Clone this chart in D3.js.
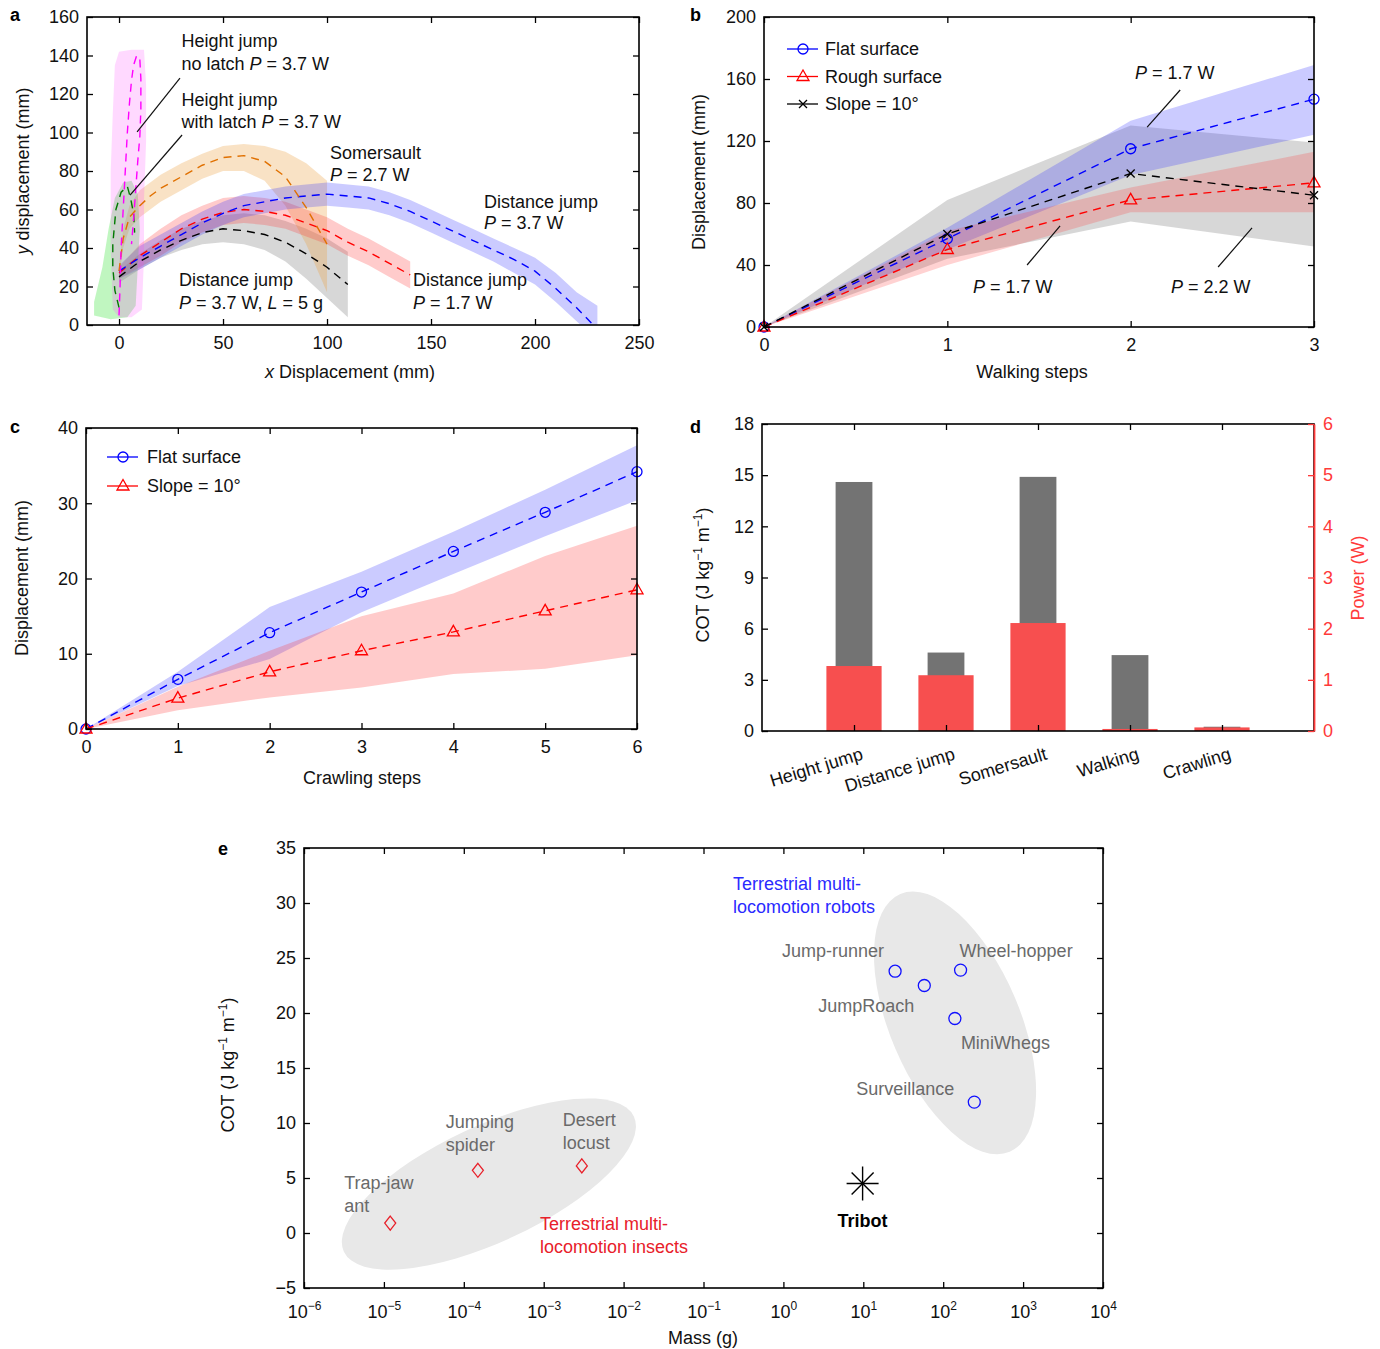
<!DOCTYPE html>
<html>
<head>
<meta charset="utf-8">
<script src="https://cdn.jsdelivr.net/npm/d3@7"></script>
<style>
body { margin: 0; background: #fff; }
svg { font-family: "Liberation Sans", Arial, Helvetica, sans-serif; }
</style>
</head>
<body>
<svg id="fig" width="1380" height="1349"></svg>
<script>
var FONT = '"Liberation Sans", Arial, Helvetica, sans-serif';
var FS = 18;

// ---------- data ----------

// a: trajectories, [x mm, y mm]
var distJump37 = [[0,28],[10,35],[20,41],[30,47],[40,53],[50,58],[60,62],[70,64],[80,66],[90,67],[100,68],[110,67],[120,66],[130,63],[140,59],[150,54],[160,49],[170,44],[180,39],[190,34],[200,28],[210,19],[220,9],[228,0]];
var distJump37Band = [[0,24,31],[10,29,41],[20,35,47],[30,41,53],[40,47,59],[50,52,64],[60,56,68],[70,58,70],[80,60,72],[90,61,73],[100,62,74],[110,61,73],[120,60,72],[130,57,69],[140,53,65],[150,48,60],[160,43,55],[170,38,50],[180,33,45],[190,27,40],[200,21,35],[210,12,27],[220,2,17],[230,-8,10]];
var distJump17 = [[0,27],[10,36],[20,43],[30,50],[40,55],[50,58.5],[60,60],[70,59],[80,57],[90,53],[100,49],[110,43],[120,38],[130,32],[140,26]];
var distJump17Band = [[0,24,30],[10,30,42],[20,36,50],[30,43,57],[40,48,62],[50,52,66],[60,53,67],[70,52,66],[80,50,64],[90,46,60],[100,42,56],[110,36,50],[120,31,45],[130,25,39],[140,19,33]];
var distJumpLoad = [[0,25],[10,33],[20,39],[30,44],[40,48],[50,50],[60,49],[70,47],[80,43],[90,37],[100,30],[110,21]];
var distJumpLoadBand = [[0,22,28],[10,29,37],[20,35,44],[30,39,50],[40,42,54],[50,43,57],[60,42,58],[70,39,57],[80,33,54],[90,24,50],[100,14,45],[110,4,38]];
var somersault = [[0,28],[2,45],[5,56],[10,62],[15,67],[20,71],[30,77],[40,83],[50,87],[60,88],[70,85],[80,77],[90,61],[100,42]];
var somersaultBand = [[0,25,31],[2,40,50],[5,50,62],[10,56,70],[20,64,78],[30,70,84],[40,76,89],[50,80,93],[60,80,94],[70,75,93],[80,62,90],[90,42,84],[100,17,75]];
var heightNoLatch = [[0,5],[0.5,20],[1,40],[2,60],[3,80],[4,100],[5,115],[6,127],[7,135],[8.5,140],[10,138],[10.5,128],[10.5,112],[10,98],[9,85],[8,70],[7,55],[6,42]];
var heightNoLatchArea = [[-3,8],[-4,40],[-4,80],[-3,110],[-2,135],[0,142],[6,143],[12,143],[13,125],[13,95],[12,65],[12,35],[11,8],[6,4],[0,4]];
var heightLatch = [[0,9],[-2,18],[-3,30],[-3,42],[-1.5,60],[1,69],[4,72],[5.5,66],[7,58],[7.5,48]];
var heightLatchArea = [[-12,5],[-12,12],[-8,30],[-5,50],[-2,66],[2,74],[6,75],[9,68],[10,50],[9,30],[8,10],[4,4],[-4,3]];

// b: walking
var walkSteps = [0,1,2,3];
var walkFlat = [0,57,115,147];
var walkFlatLo = [0,50,98,124];
var walkFlatHi = [0,64,133,169];
var walkRough = [0,50,82,93];
var walkRoughLo = [0,40,74,74];
var walkRoughHi = [0,62,90,113];
var walkSlope = [0,60,99,85];
var walkSlopeLo = [0,44,68,52];
var walkSlopeHi = [0,82,130,119];

// c: crawling
var crawlSteps = [0,1,2,3,4,5,6];
var crawlFlat = [0,6.6,12.8,18.2,23.6,28.8,34.2];
var crawlFlatLo = [0,5.7,9.3,15.5,20.6,25.6,30.4];
var crawlFlatHi = [0,7.6,16.2,20.9,26.2,31.8,37.7];
var crawlSlope = [0,4.1,7.6,10.4,12.9,15.7,18.5];
var crawlSlopeLo = [0,2.5,4.2,5.5,7.3,8,9.8];
var crawlSlopeHi = [0,5.6,10.4,15,18,23,27];

// d: cost of transport and power
var modes = ["Height jump","Distance jump","Somersault","Walking","Crawling"];
var modeCOT = [14.6,4.6,14.9,4.45,0.25];
var modePower = [1.27,1.09,2.11,0.04,0.07];

// e: COT vs mass
var insectNames = [["Trap-jaw","ant"],["Jumping","spider"],["Desert","locust"]];
var insectMass = [1.2e-5,1.5e-4,3.0e-3];
var insectCOT = [0.9,5.7,6.1];
var robotNames = ["Jump-runner","JumpRoach","Wheel-hopper","MiniWhegs","Surveillance"];
var robotMass = [25,58,165,140,245];
var robotCOT = [23.8,22.5,23.9,19.5,11.9];
var tribotMass = 9.8, tribotCOT = 4.5;

// ---------- helpers ----------

var svg = d3.select("#fig");

function frame(g, x, y, o) {
  var xr = x.range(), yr = y.range();
  var bx = g.append("g").attr("transform","translate(0,"+yr[0]+")")
    .call(d3.axisBottom(x).tickValues(o.xt).tickSizeInner(-6).tickSizeOuter(0).tickPadding(11).tickFormat(o.xf || d3.format("d")));
  g.append("g").attr("transform","translate(0,"+yr[1]+")")
    .call(d3.axisTop(x).tickValues(o.xtTop || o.xt).tickSizeInner(-6).tickSizeOuter(0).tickFormat(""));
  g.append("g").attr("transform","translate("+xr[0]+",0)")
    .call(d3.axisLeft(y).tickValues(o.yt).tickSizeInner(-6).tickSizeOuter(0).tickPadding(8));
  if (!o.noRight) {
    g.append("g").attr("transform","translate("+xr[1]+",0)")
      .call(d3.axisRight(y).tickValues(o.yt).tickSizeInner(-6).tickSizeOuter(0).tickFormat(""));
  }
  g.selectAll(".domain").remove();
  g.selectAll("g").attr("font-size",FS).attr("font-family",FONT);
  g.selectAll(".tick line").attr("stroke-width",1.3);
  g.selectAll(".tick text").attr("fill","#111");
  g.append("rect").attr("x",xr[0]).attr("y",yr[1])
    .attr("width",xr[1]-xr[0]).attr("height",yr[0]-yr[1])
    .attr("fill","none").attr("stroke","black").attr("stroke-width",1.6);
  return bx;
}

// text with *italic* pieces
function label(g, x, y, str, anchor) {
  var t = g.append("text").attr("x",x).attr("y",y).attr("font-size",FS)
    .attr("text-anchor",anchor || "start").attr("fill","#111");
  str.split("*").forEach(function(s,i){
    if (s.length) t.append("tspan").text(s).attr("font-style", i%2 ? "italic" : null);
  });
  return t;
}

function cotLabel(g, x, y) {
  var t = g.append("text").attr("font-size",FS).attr("fill","#111")
    .attr("text-anchor","middle")
    .attr("transform","translate("+x+","+y+")rotate(-90)");
  t.append("tspan").text("COT (J kg");
  t.append("tspan").text("\u22121").attr("font-size",12).attr("dy",-7);
  t.append("tspan").text(" m").attr("dy",7);
  t.append("tspan").text("\u22121").attr("font-size",12).attr("dy",-7);
  t.append("tspan").text(")").attr("dy",7);
}

function panelLetter(x, y, s) {
  svg.append("text").attr("x",x).attr("y",y).attr("font-size",FS)
    .attr("font-weight","bold").text(s);
}

var triPath = "M0,-6.5L6,4L-6,4Z";
var crossPath = "M-4,-4L4,4M-4,4L4,-4";

function marker(g, kind, cx, cy, color) {
  if (kind == "circle") {
    g.append("circle").attr("cx",cx).attr("cy",cy).attr("r",5)
      .attr("fill","none").attr("stroke",color).attr("stroke-width",1.3);
  } else {
    g.append("path").attr("d", kind == "tri" ? triPath : crossPath)
      .attr("transform","translate("+cx+","+cy+")")
      .attr("fill","none").attr("stroke",color).attr("stroke-width",1.3);
  }
}

// ---------- panel a ----------
(function(){
  var g = svg.append("g");
  var x = d3.scaleLinear().domain([-15.4,250]).range([87,639]);
  var y = d3.scaleLinear().domain([0,160]).range([325,17]);
  g.append("clipPath").attr("id","clipA").append("rect")
    .attr("x",87).attr("y",17).attr("width",552).attr("height",308);
  var plot = g.append("g").attr("clip-path","url(#clipA)");

  var band = d3.area().x(function(d){return x(d[0]);})
    .y0(function(d){return y(d[1]);}).y1(function(d){return y(d[2]);});
  var line = d3.line().x(function(d){return x(d[0]);}).y(function(d){return y(d[1]);});

  plot.append("path").attr("d",band(distJumpLoadBand)).attr("fill","#8c8c8c").attr("fill-opacity",0.35);
  plot.append("path").attr("d",band(somersaultBand)).attr("fill","#eaa040").attr("fill-opacity",0.3);
  plot.append("path").attr("d",band(distJump17Band)).attr("fill","#ff3030").attr("fill-opacity",0.25);
  plot.append("path").attr("d",band(distJump37Band)).attr("fill","#3030ff").attr("fill-opacity",0.25);
  plot.append("path").attr("d",line(heightLatchArea)+"Z").attr("fill","#30e030").attr("fill-opacity",0.3);
  plot.append("path").attr("d",line(heightNoLatchArea)+"Z").attr("fill","#ff40ff").attr("fill-opacity",0.2);

  var series = [
    [distJumpLoad,"#000"],[distJump17,"#ff0000"],[distJump37,"#0000ff"],
    [somersault,"#e07000"],[heightLatch,"#007a00"],[heightNoLatch,"#ff00ff"]
  ];
  series.forEach(function(s){
    plot.append("path").attr("d",line(s[0])).attr("fill","none")
      .attr("stroke",s[1]).attr("stroke-width",1.4).attr("stroke-dasharray","8,6");
  });

  frame(g, x, y, {xt:[0,50,100,150,200,250], yt:d3.range(0,161,20)});

  var notes = [
    [30,144.5,"Height jump"],[30,132.5,"no latch *P* = 3.7 W"],
    [30,113.8,"Height jump"],[30,102.3,"with latch *P* = 3.7 W"],
    [101.4,86.2,"Somersault"],[101.4,74.8,"*P* = 2.7 W"],
    [175.5,60.8,"Distance jump"],[175.5,49.9,"*P* = 3.7 W"],
    [28.8,20.3,"Distance jump"],[28.8,8.3,"*P* = 3.7 W, *L* = 5 g"],
    [141.3,20.3,"Distance jump"],[141.3,8.3,"*P* = 1.7 W"]
  ];
  notes.forEach(function(n){ label(g, x(n[0]), y(n[1]), n[2]); });
  var leaders = [[29.3,128.3,8.7,100.3],[30.3,98.7,5.3,67.5]];
  leaders.forEach(function(l){
    g.append("line").attr("x1",x(l[0])).attr("y1",y(l[1])).attr("x2",x(l[2])).attr("y2",y(l[3]))
      .attr("stroke","#111").attr("stroke-width",1.2);
  });

  var yl = g.append("text").attr("font-size",FS).attr("text-anchor","middle")
    .attr("transform","translate(29,171)rotate(-90)").attr("fill","#111");
  yl.append("tspan").text("y").attr("font-style","italic");
  yl.append("tspan").text(" displacement (mm)");
  label(g, 350, 378, "*x* Displacement (mm)", "middle");
  panelLetter(10, 21, "a");
})();

// ---------- panel b ----------
(function(){
  var g = svg.append("g");
  var x = d3.scaleLinear().domain([0,3]).range([764,1314]);
  var y = d3.scaleLinear().domain([0,200]).range([327,17]);
  var area = function(lo, hi){
    return d3.area().x(function(d,i){return x(walkSteps[i]);})
      .y0(function(d,i){return y(lo[i]);}).y1(function(d,i){return y(hi[i]);})(walkSteps);
  };
  g.append("path").attr("d",area(walkSlopeLo,walkSlopeHi)).attr("fill","#8c8c8c").attr("fill-opacity",0.35);
  g.append("path").attr("d",area(walkFlatLo,walkFlatHi)).attr("fill","#3030ff").attr("fill-opacity",0.25);
  g.append("path").attr("d",area(walkRoughLo,walkRoughHi)).attr("fill","#ff3030").attr("fill-opacity",0.22);

  var series = [[walkFlat,"#0000ff","circle"],[walkRough,"#ff0000","tri"],[walkSlope,"#000","cross"]];
  series.forEach(function(s){
    var line = d3.line().x(function(d,i){return x(walkSteps[i]);}).y(function(d){return y(d);});
    g.append("path").attr("d",line(s[0])).attr("fill","none").attr("stroke",s[1])
      .attr("stroke-width",1.4).attr("stroke-dasharray","8,6");
    s[0].forEach(function(v,i){ marker(g, s[2], x(walkSteps[i]), y(v), s[1]); });
  });

  frame(g, x, y, {xt:walkSteps, yt:d3.range(0,201,40)});

  var legend = [["Flat surface","#0000ff","circle"],["Rough surface","#ff0000","tri"],["Slope = 10\u00b0","#000","cross"]];
  legend.forEach(function(l,i){
    var ly = 49 + i*27.5;
    g.append("line").attr("x1",787).attr("x2",818).attr("y1",ly).attr("y2",ly)
      .attr("stroke",l[1]).attr("stroke-width",1.3);
    marker(g, l[2], 803, ly, l[1]);
    label(g, 825, ly+6, l[0]);
  });

  var notes = [[2.024,160,"*P* = 1.7 W"],[1.14,21.9,"*P* = 1.7 W"],[2.22,21.9,"*P* = 2.2 W"]];
  notes.forEach(function(n){ label(g, x(n[0]), y(n[1]), n[2]); });
  var leaders = [[2.27,152.9,2.09,129],[1.435,40,1.615,65.2],[2.477,38.7,2.662,63.9]];
  leaders.forEach(function(l){
    g.append("line").attr("x1",x(l[0])).attr("y1",y(l[1])).attr("x2",x(l[2])).attr("y2",y(l[3]))
      .attr("stroke","#111").attr("stroke-width",1.2);
  });

  g.append("text").attr("font-size",FS).attr("text-anchor","middle").attr("fill","#111")
    .attr("transform","translate(705,172)rotate(-90)").text("Displacement (mm)");
  label(g, 1032, 378, "Walking steps", "middle");
  panelLetter(690, 21, "b");
})();

// ---------- panel c ----------
(function(){
  var g = svg.append("g");
  var x = d3.scaleLinear().domain([0,6]).range([86,637]);
  var y = d3.scaleLinear().domain([0,40]).range([729,428]);
  var area = function(lo, hi){
    return d3.area().x(function(d,i){return x(crawlSteps[i]);})
      .y0(function(d,i){return y(lo[i]);}).y1(function(d,i){return y(hi[i]);})(crawlSteps);
  };
  g.append("path").attr("d",area(crawlFlatLo,crawlFlatHi)).attr("fill","#3030ff").attr("fill-opacity",0.25);
  g.append("path").attr("d",area(crawlSlopeLo,crawlSlopeHi)).attr("fill","#ff3030").attr("fill-opacity",0.25);

  var series = [[crawlFlat,"#0000ff","circle"],[crawlSlope,"#ff0000","tri"]];
  series.forEach(function(s){
    var line = d3.line().x(function(d,i){return x(crawlSteps[i]);}).y(function(d){return y(d);});
    g.append("path").attr("d",line(s[0])).attr("fill","none").attr("stroke",s[1])
      .attr("stroke-width",1.4).attr("stroke-dasharray","8,6");
    s[0].forEach(function(v,i){ marker(g, s[2], x(crawlSteps[i]), y(v), s[1]); });
  });

  frame(g, x, y, {xt:crawlSteps, yt:d3.range(0,41,10)});

  var legend = [["Flat surface","#0000ff","circle"],["Slope = 10\u00b0","#ff0000","tri"]];
  legend.forEach(function(l,i){
    var ly = 457 + i*29;
    g.append("line").attr("x1",107).attr("x2",138).attr("y1",ly).attr("y2",ly)
      .attr("stroke",l[1]).attr("stroke-width",1.3);
    marker(g, l[2], 123, ly, l[1]);
    label(g, 147, ly+6, l[0]);
  });

  g.append("text").attr("font-size",FS).attr("text-anchor","middle").attr("fill","#111")
    .attr("transform","translate(28,578)rotate(-90)").text("Displacement (mm)");
  label(g, 362, 784, "Crawling steps", "middle");
  panelLetter(10, 433, "c");
})();

// ---------- panel d ----------
(function(){
  var g = svg.append("g");
  var x = d3.scaleLinear().domain([0,6]).range([762,1314]);
  var y = d3.scaleLinear().domain([0,18]).range([731,424]);
  var yr = d3.scaleLinear().domain([0,6]).range([731,424]);
  var pos = modes.map(function(d,i){return i+1;});

  g.selectAll(".cot").data(modeCOT).enter().append("rect")
    .attr("x",function(d,i){return x(pos[i]-0.2);}).attr("width",x(0.4)-x(0))
    .attr("y",function(d){return y(d);}).attr("height",function(d){return y(0)-y(d);})
    .attr("fill","#737373");
  g.selectAll(".pow").data(modePower).enter().append("rect")
    .attr("x",function(d,i){return x(pos[i]-0.3);}).attr("width",x(0.6)-x(0))
    .attr("y",function(d){return yr(d);}).attr("height",function(d){return yr(0)-yr(d);})
    .attr("fill","#f74f4f");

  frame(g, x, y, {xt:pos, yt:d3.range(0,19,3), xf:function(){return "";}, noRight:true});
  // right power axis
  var ra = g.append("g").attr("transform","translate(1314,0)")
    .call(d3.axisRight(yr).tickValues(d3.range(0,7)).tickSizeInner(-6).tickSizeOuter(0)
      .tickPadding(9).tickFormat(d3.format("d")));
  ra.attr("font-size",FS).attr("font-family",FONT);
  ra.select(".domain").attr("stroke","#ff3a3a").attr("stroke-width",1.8);
  ra.selectAll(".tick line").attr("stroke","#ff3a3a").attr("stroke-width",1.3);
  ra.selectAll(".tick text").attr("fill","#ff3a3a");

  modes.forEach(function(m,i){
    g.append("text").attr("font-size",FS).attr("text-anchor","end").attr("fill","#111")
      .attr("transform","translate("+(x(pos[i])+10)+",759)rotate(-17)").text(m);
  });

  cotLabel(g, 709, 575);
  g.append("text").attr("font-size",FS).attr("text-anchor","middle").attr("fill","#ff3a3a")
    .attr("transform","translate(1364,578)rotate(-90)").text("Power (W)");
  panelLetter(690, 433, "d");
})();

// ---------- panel e ----------
(function(){
  var g = svg.append("g");
  var x = d3.scaleLog().domain([1e-6,1e4]).range([304,1103]);
  var y = d3.scaleLinear().domain([-5,35]).range([1288,848]);

  // grouping ellipses
  var groups = [
    {m:2.06e-4, c:4.45, rx:160, ry:58, rot:-25},
    {m:140.6, c:19.1, rx:140, ry:65, rot:67}
  ];
  groups.forEach(function(e){
    g.append("ellipse").attr("rx",e.rx).attr("ry",e.ry).attr("fill","#e8e8e8")
      .attr("transform","translate("+x(e.m)+","+y(e.c)+")rotate("+e.rot+")");
  });

  var decades = d3.range(-6,5).map(function(k){return Math.pow(10,k);});
  var bx = frame(g, x, y, {xt:decades, yt:d3.range(-5,36,5), xf:function(){return "";}});
  bx.selectAll(".tick").each(function(d){
    var t = d3.select(this).append("text").attr("fill","#111").attr("y",30)
      .attr("text-anchor","middle").attr("font-size",FS);
    var k = Math.round(Math.log10(d));
    t.append("tspan").text("10");
    t.append("tspan").text(k < 0 ? "\u2212"+(-k) : ""+k).attr("font-size",12).attr("dy",-8);
  });

  var diamond = "M0,-7L5.5,0L0,7L-5.5,0Z";
  var insectOff = [[-46,-34],[-32,-42],[-19,-40]];
  insectMass.forEach(function(m,i){
    g.append("path").attr("d",diamond).attr("transform","translate("+x(m)+","+y(insectCOT[i])+")")
      .attr("fill","none").attr("stroke","#e8202a").attr("stroke-width",1.3);
    insectNames[i].forEach(function(s,j){
      g.append("text").attr("x",x(m)+insectOff[i][0]).attr("y",y(insectCOT[i])+insectOff[i][1]+j*23)
        .attr("font-size",FS).attr("fill","#6a6a6a").text(s);
    });
  });

  var robotOff = [[-11,-14,"end"],[-106,26,"start"],[-1,-13,"start"],[6,30,"start"],[-118,-7,"start"]];
  robotMass.forEach(function(m,i){
    g.append("circle").attr("cx",x(m)).attr("cy",y(robotCOT[i])).attr("r",6)
      .attr("fill","none").attr("stroke","#1010ff").attr("stroke-width",1.3);
    g.append("text").attr("x",x(m)+robotOff[i][0]).attr("y",y(robotCOT[i])+robotOff[i][1])
      .attr("text-anchor",robotOff[i][2]).attr("font-size",FS).attr("fill","#6a6a6a").text(robotNames[i]);
  });

  var tx = x(tribotMass), ty = y(tribotCOT);
  [[16,0],[0,17],[11,11],[11,-11]].forEach(function(a){
    g.append("line").attr("x1",tx-a[0]).attr("y1",ty-a[1]).attr("x2",tx+a[0]).attr("y2",ty+a[1])
      .attr("stroke","#000").attr("stroke-width",1.4);
  });
  g.append("text").attr("x",tx).attr("y",ty+43).attr("text-anchor","middle")
    .attr("font-size",FS).attr("font-weight","bold").text("Tribot");

  var groupText = [
    [0.234,31.2,"Terrestrial multi-","#2a2aff"],[0.234,29.1,"locomotion robots","#2a2aff"],
    [9.0e-4,0.27,"Terrestrial multi-","#e8202a"],[9.0e-4,-1.8,"locomotion insects","#e8202a"]
  ];
  groupText.forEach(function(t){
    g.append("text").attr("x",x(t[0])).attr("y",y(t[1])).attr("font-size",FS)
      .attr("fill",t[3]).text(t[2]);
  });

  cotLabel(g, 234, 1065);
  label(g, 703, 1344, "Mass (g)", "middle");
  panelLetter(218, 855, "e");
})();
</script>
</body>
</html>
